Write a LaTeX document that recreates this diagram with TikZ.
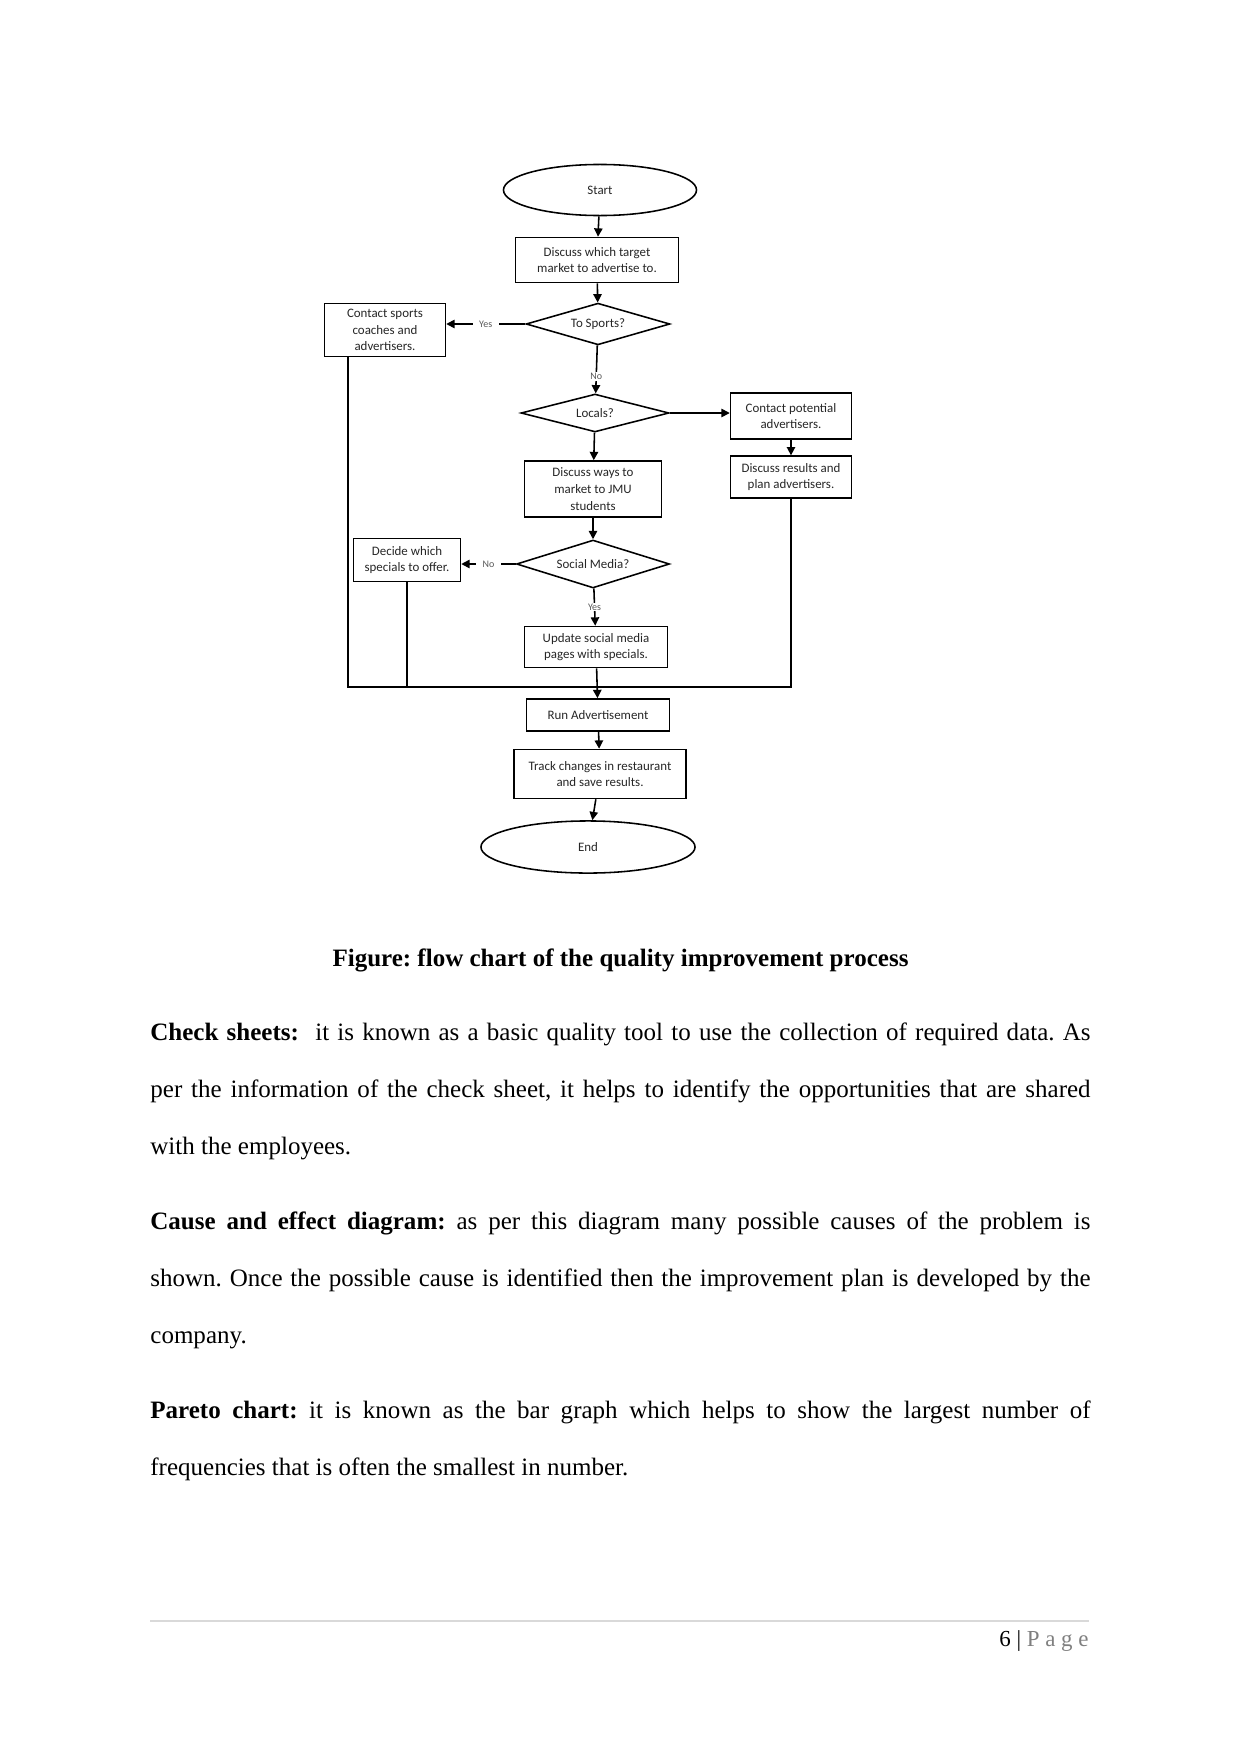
\documentclass[tikz,border=0pt]{standalone}
\usepackage{fontspec}
\setmainfont{Liberation Serif}
\newfontfamily\flowfont{Carlito}
\usepackage{tikz}
\usetikzlibrary{arrows.meta,positioning,shapes.geometric}
\definecolor{pagegray}{HTML}{7F7F7F}
\definecolor{rulegray}{HTML}{D9D9D9}
\frenchspacing

\begin{document}
\begin{tikzpicture}[
  x=0.4797pt, y=-0.4797pt,
  font={\flowfont\fontsize{6.2}{8}\selectfont},
  blk/.style={draw, line width=0.75pt, align=center, inner sep=1pt, text=black!85},
  box/.style={blk, rectangle},
  cond/.style={blk, diamond, aspect=3, inner sep=0pt},
  term/.style={blk, ellipse, inner sep=0pt},
  lab/.style={font={\flowfont\fontsize{4.8}{5}\selectfont}, text=black!65, fill=white,
              inner xsep=3pt, inner ysep=0.5pt},
  ar/.style={line width=0.75pt, -{Triangle[length=4pt,width=4pt]}},
  ln/.style={line width=0.75pt},
  body/.style={font={\fontsize{12}{27.4}\selectfont}, text width=451pt, align=justify,
               inner sep=0pt, anchor=base west},
]
\useasboundingbox (0,0) rectangle (1241,1754);

%% ---------- flow chart ----------
\node[term, minimum width=92.6pt, minimum height=24.5pt] (start) at (600,190) {Start};
\node[box, minimum width=78.2pt, minimum height=21.6pt] (disc) at (597,260) {Discuss which target\\market to advertise to.};
\node[cond, minimum width=69pt, minimum height=20pt] (sports) at (598,324) {To Sports?};
\node[box, minimum width=58pt, minimum height=25.4pt] (csp) at (385,330) {Contact sports\\coaches and\\advertisers.};
\node[cond, minimum width=71pt, minimum height=18.2pt] (loc) at (595,413) {Locals?};
\node[box, minimum width=58pt, minimum height=22pt] (cpa) at (791,416) {Contact potential\\advertisers.};
\node[box, minimum width=58pt, minimum height=20pt] (dres) at (791,477) {Discuss results and\\plan advertisers.};
\node[box, minimum width=65.7pt, minimum height=26.9pt] (ways) at (593,489) {Discuss ways to\\market to JMU\\students};
\node[cond, minimum width=73.4pt, minimum height=23pt] (soc) at (593,564) {Social Media?};
\node[box, minimum width=51.3pt, minimum height=20.6pt] (decide) at (407,560) {Decide which\\specials to offer.};
\node[box, minimum width=68.6pt, minimum height=19.7pt] (upd) at (596,647) {Update social media\\pages with specials.};
\node[box, minimum width=68.6pt, minimum height=15.4pt] (run) at (598,715) {Run Advertisement};
\node[box, minimum width=82.5pt, minimum height=23.5pt] (trk) at (600,774) {Track changes in restaurant\\and save results.};
\node[term, minimum width=102.7pt, minimum height=25pt] (fin) at (588,847) {End};
\coordinate (merge) at (598,687);

\draw[ar] (start) -- (disc);
\draw[ar] (disc) -- (sports);
\draw[ar] (sports.west) -- node[lab] {Yes} (sports.west -| csp.east);
\draw[ar] (sports) -- node[lab, pos=0.65] {No} (loc);
\draw[ar] (loc.east) -- (loc.east -| cpa.west);
\draw[ar] (cpa) -- (dres);
\draw[ar] (loc) -- (ways);
\draw[ar] (ways) -- (soc);
\draw[ar] (soc.west) -- node[lab] {No} (soc.west -| decide.east);
\draw[ar] (soc) -- node[lab] {Yes} (upd);
\draw[ln] ([xshift=11.5pt]csp.south west) |- (merge);
\draw[ln] (decide) |- (merge);
\draw[ln] (dres) |- (merge);
\draw[ar] (upd) -- (run);
\draw[ar] (run) -- (trk);
\draw[ar] (trk) -- (fin);

%% ---------- caption and text ----------
\node[font={\bfseries\fontsize{12}{14}\selectfont}, anchor=base, inner sep=0pt] (cap) at (620.5,966)
  {Figure: flow chart of the quality improvement process};
\node[body] (p1) at (150,1040) {\textbf{Check sheets:}\ \ it is known as a basic quality tool to use the collection of required data. As\linebreak
  per the information of the check sheet, it helps to identify the opportunities that are shared\linebreak
  with the employees.};
\node[body] (p2) at (150,1229.5) {\textbf{Cause and effect diagram:} as per this diagram many possible causes of the problem is\linebreak
  shown. Once the possible cause is identified then the improvement plan is developed by the\linebreak
  company.};
\node[body] (p3) at (150,1418.5) {\textbf{Pareto chart:} it is known as the bar graph which helps to show the largest number of\linebreak
  frequencies that is often the smallest in number.};

%% ---------- footer ----------
\draw[rulegray, line width=0.5pt] (150,1621) -- (1089,1621);
\node[font={\fontsize{11}{13}\selectfont}, anchor=base east, inner sep=0pt] (pg) at (1089,1646)
  {6 | \textcolor{pagegray}{P a g e}};
\end{tikzpicture}
\end{document}
